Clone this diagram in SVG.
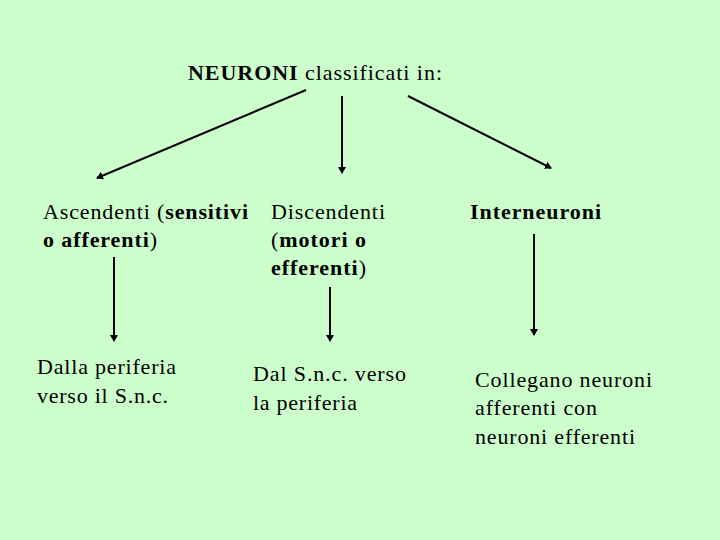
<svg xmlns="http://www.w3.org/2000/svg" width="720" height="540" viewBox="0 0 720 540" font-family="Liberation Serif, Times New Roman, Times, serif" font-size="22">
<style>
.b{font-weight:bold}
.c{stroke:#000;stroke-width:2;fill:none;marker-end:url(#ah)}
</style>
<defs>
<marker id="ah" markerWidth="8" markerHeight="8" refX="6" refY="4" orient="auto" markerUnits="userSpaceOnUse">
<path d="M0,0 L7,4 L0,8 Z" fill="#000"/>
</marker>
</defs>
<rect width="720" height="540" fill="#CCFFCC"/>
<g id="root"><text x="188" y="80" textLength="254" lengthAdjust="spacing"><tspan class="b">NEURONI</tspan> classificati in:</text></g>
<g id="ascendenti"><text x="43" y="219" textLength="205" lengthAdjust="spacing">Ascendenti (<tspan class="b">sensitivi</tspan></text><text x="43" y="247" textLength="114" lengthAdjust="spacing"><tspan class="b">o afferenti</tspan>)</text></g>
<g id="discendenti"><text x="271" y="219" textLength="114" lengthAdjust="spacing">Discendenti</text><text x="271" y="247" textLength="95" lengthAdjust="spacing">(<tspan class="b">motori o</tspan></text><text x="271" y="275" textLength="95" lengthAdjust="spacing"><tspan class="b">efferenti</tspan>)</text></g>
<g id="interneuroni"><text x="470" y="219" class="b" textLength="131" lengthAdjust="spacing">Interneuroni</text></g>
<g id="dalla"><text x="37" y="374" textLength="139" lengthAdjust="spacing">Dalla periferia</text><text x="37" y="403" textLength="131" lengthAdjust="spacing">verso il S.n.c.</text></g>
<g id="dal"><text x="253" y="381" textLength="153" lengthAdjust="spacing">Dal S.n.c. verso</text><text x="253" y="410" textLength="104" lengthAdjust="spacing">la periferia</text></g>
<g id="collegano"><text x="475" y="387" textLength="177" lengthAdjust="spacing">Collegano neuroni</text><text x="475" y="415" textLength="122" lengthAdjust="spacing">afferenti con</text><text x="475" y="444" textLength="160" lengthAdjust="spacing">neuroni efferenti</text></g>
<g id="connectors">
<line class="c" x1="306" y1="90" x2="97" y2="178"/>
<line class="c" x1="342" y1="96" x2="342" y2="173"/>
<line class="c" x1="408" y1="96" x2="551" y2="168"/>
<line class="c" x1="114" y1="257" x2="114" y2="341"/>
<line class="c" x1="330" y1="287" x2="330" y2="341"/>
<line class="c" x1="534" y1="234" x2="534" y2="335"/>
</g>
</svg>
